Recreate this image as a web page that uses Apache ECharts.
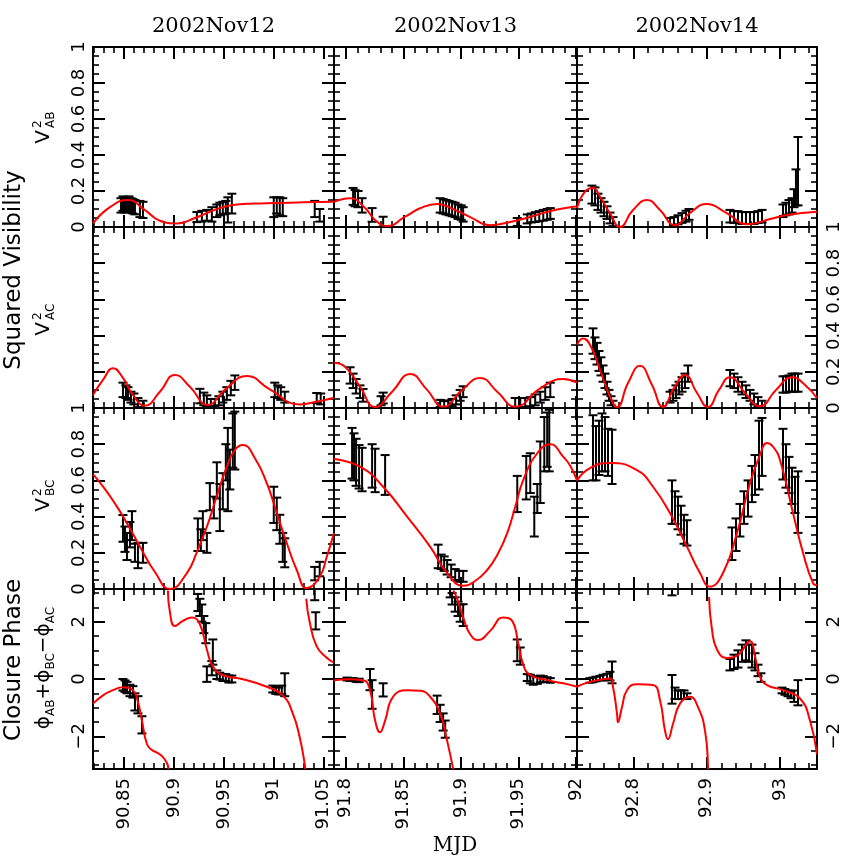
<!DOCTYPE html>
<html><head><meta charset="utf-8">
<script src="https://cdn.jsdelivr.net/npm/echarts@6/dist/echarts.min.js"></script>
<style>html,body{margin:0;padding:0;background:#fff}#c{width:862px;height:862px}</style>
</head><body><div id="c"></div><script>
// ---------------- data ----------------
const colTitles = ['2002Nov12', '2002Nov13', '2002Nov14'];
const xRange = [[90.819, 91.0603], [91.7898, 92.0009], [92.7232, 93.0506]];
const xMajor = [[90.85, 90.9, 90.95, 91, 91.05], [91.8, 91.85, 91.9, 91.95, 92], [92.8, 92.9, 93]];
const xLabels = [[90.85, 90.9, 90.95, 91, 91.05], [91.8, 91.85, 91.9, 91.95, 92], [92.8, 92.9, 93]];
const xMinorStep = [0.01, 0.01, 0.02];
const yMajorVis = [0, 0.2, 0.4, 0.6, 0.8, 1];
const yMajorCP = [-2, 0, 2];

// squared visibility AB: [MJD, V2, err]
const vab12 = [[90.847,0.12,0.04],[90.849,0.13,0.04],[90.851,0.12,0.04],[90.853,0.125,0.04],[90.855,0.13,0.04],[90.857,0.12,0.04],[90.859,0.115,0.04],[90.861,0.11,0.04],[90.866,0.1,0.045],[90.869,0.095,0.045],
[90.923,0.055,0.028],[90.928,0.06,0.03],[90.933,0.065,0.03],[90.938,0.07,0.04],[90.943,0.09,0.035],[90.946,0.1,0.035],[90.949,0.105,0.035],[90.952,0.11,0.035],[90.954,0.095,0.07],[90.958,0.13,0.055],
[91.0,0.11,0.055],[91.003,0.12,0.045],[91.006,0.115,0.05],[91.009,0.11,0.05],[91.041,0.1,0.045],[91.046,0.065,0.035]];
const vab13 = [[91.8064,0.17,0.047],[91.8081,0.16,0.045],[91.8107,0.155,0.045],[91.8142,0.12,0.04],[91.8229,0.067,0.038],[91.8325,0.03,0.027],
[91.882,0.12,0.04],[91.8846,0.115,0.04],[91.8872,0.11,0.04],[91.8898,0.105,0.04],[91.8924,0.1,0.04],[91.895,0.095,0.04],[91.8976,0.085,0.04],[91.9003,0.08,0.04],[91.902,0.07,0.04],
[91.949,0.028,0.022],[91.9577,0.045,0.025],[91.9612,0.05,0.025],[91.9646,0.055,0.027],[91.9681,0.06,0.028],[91.9716,0.065,0.03],[91.975,0.07,0.03],[91.9777,0.075,0.03]];
const vab14 = [[92.7436,0.18,0.05],[92.7477,0.17,0.05],[92.7518,0.14,0.045],[92.7559,0.12,0.04],[92.76,0.1,0.04],[92.7641,0.08,0.035],[92.7682,0.05,0.03],[92.7723,0.03,0.025],
[92.8501,0.025,0.025],[92.8555,0.03,0.025],[92.861,0.04,0.025],[92.8664,0.05,0.027],[92.8719,0.06,0.03],[92.876,0.07,0.03],
[92.9319,0.06,0.035],[92.9374,0.055,0.033],[92.9428,0.055,0.033],[92.9483,0.05,0.033],[92.9537,0.05,0.033],[92.9592,0.05,0.033],[92.9646,0.05,0.033],[92.9701,0.055,0.033],[92.9756,0.06,0.035],
[93.0042,0.09,0.035],[93.0083,0.1,0.035],[93.0124,0.11,0.04],[93.0165,0.12,0.04],[93.0192,0.16,0.05],[93.0219,0.22,0.1],[93.0247,0.31,0.19]];
const mab12 = [[90.819,0.02],[90.836,0.11],[90.854,0.15],[90.871,0.094],[90.886,0.035],[90.903,0.02],[90.921,0.05],[90.938,0.089],[90.959,0.122],[90.98,0.13],[91.003,0.133],[91.03,0.137],[91.0603,0.14]];
const mab13 = [[91.7898,0.14],[91.8038,0.16],[91.8168,0.105],[91.8255,0.039],[91.8359,0.005],[91.8516,0.057],[91.8646,0.104],[91.8794,0.128],[91.8951,0.094],[91.9081,0.055],[91.9255,0.01],[91.9429,0.028],[91.9603,0.056],[91.9777,0.089],[91.9951,0.11],[92.0009,0.114]];
const mab14 = [[92.7232,0.105],[92.7341,0.196],[92.745,0.217],[92.7546,0.168],[92.7682,0.076],[92.7818,0.0],[92.7996,0.094],[92.8187,0.15],[92.8364,0.094],[92.8569,0.01],[92.8773,0.078],[92.9005,0.128],[92.9251,0.083],[92.9565,0.015],[92.9865,0.044],[93.0097,0.067],[93.0506,0.085]];

// squared visibility AC
const vac12 = [[90.849,0.1,0.04],[90.852,0.09,0.035],[90.854,0.08,0.035],[90.857,0.06,0.03],[90.86,0.05,0.03],[90.864,0.03,0.025],[90.869,0.02,0.02],
[90.926,0.066,0.04],[90.93,0.05,0.035],[90.933,0.04,0.03],[90.937,0.03,0.02],[90.941,0.03,0.02],[90.945,0.04,0.025],[90.949,0.06,0.03],[90.953,0.08,0.035],[90.957,0.11,0.04],[90.961,0.14,0.04],
[91.001,0.1,0.04],[91.004,0.09,0.035],[91.007,0.08,0.035],[91.011,0.06,0.03],[91.043,0.055,0.028],[91.047,0.05,0.03]];
const vac13 = [[91.8038,0.18,0.045],[91.8064,0.15,0.04],[91.809,0.12,0.04],[91.8124,0.09,0.035],[91.815,0.07,0.035],[91.8307,0.04,0.025],[91.8325,0.055,0.03],
[91.882,0.025,0.02],[91.8855,0.02,0.018],[91.889,0.022,0.02],[91.8924,0.03,0.02],[91.8959,0.045,0.025],[91.8994,0.07,0.03],[91.902,0.09,0.03],
[91.9472,0.03,0.025],[91.9516,0.03,0.025],[91.9559,0.03,0.025],[91.9603,0.035,0.025],[91.9646,0.045,0.03],[91.969,0.06,0.03],[91.9733,0.08,0.035],[91.9777,0.1,0.04]];
const vac14 = [[92.745,0.37,0.07],[92.7477,0.33,0.06],[92.7505,0.3,0.06],[92.7532,0.26,0.055],[92.7559,0.23,0.05],[92.7587,0.19,0.045],[92.7614,0.15,0.04],[92.7641,0.11,0.035],[92.7669,0.07,0.03],[92.7696,0.04,0.025],[92.7723,0.02,0.02],
[92.8501,0.06,0.03],[92.8542,0.07,0.03],[92.8582,0.09,0.035],[92.8623,0.11,0.035],[92.8664,0.13,0.04],[92.8705,0.15,0.04],[92.8746,0.19,0.045],
[92.9319,0.165,0.045],[92.9374,0.15,0.04],[92.9428,0.13,0.04],[92.9483,0.11,0.035],[92.9537,0.09,0.035],[92.9592,0.07,0.03],[92.9646,0.05,0.03],[92.9701,0.035,0.025],[92.9756,0.02,0.02],
[93.0042,0.13,0.045],[93.0083,0.13,0.045],[93.0124,0.135,0.045],[93.0165,0.14,0.05],[93.0206,0.14,0.05],[93.0247,0.14,0.05]];
const mac12 = [[90.819,0.072],[90.829,0.155],[90.839,0.22],[90.849,0.166],[90.859,0.072],[90.871,0.013],[90.886,0.09],[90.901,0.183],[90.916,0.118],[90.934,0.017],[90.951,0.1],[90.973,0.177],[90.996,0.103],[91.026,0.02],[91.043,0.035],[91.0603,0.057]];
const mac13 = [[91.7898,0.25],[91.7994,0.228],[91.8124,0.118],[91.8255,0.005],[91.8403,0.09],[91.8559,0.188],[91.8707,0.1],[91.8846,0.007],[91.9011,0.1],[91.9168,0.166],[91.9316,0.09],[91.9472,0.007],[91.969,0.109],[91.989,0.16],[92.0009,0.14]];
const mac14 = [[92.7232,0.35],[92.7314,0.384],[92.7409,0.35],[92.7546,0.21],[92.7682,0.063],[92.7778,0.005],[92.7928,0.138],[92.8091,0.233],[92.8255,0.127],[92.8405,0.005],[92.8555,0.11],[92.8705,0.183],[92.8869,0.083],[92.9019,0.005],[92.9169,0.1],[92.9319,0.17],[92.9524,0.083],[92.9728,0.01],[92.9947,0.1],[93.0165,0.17],[93.0343,0.127],[93.0506,0.055]];

// squared visibility BC
const vbc12 = [[90.849,0.335,0.074],[90.851,0.275,0.07],[90.853,0.235,0.075],[90.856,0.3,0.07],[90.858,0.35,0.08],[90.861,0.2,0.05],[90.864,0.185,0.07],[90.869,0.2,0.055],
[90.924,0.3,0.09],[90.927,0.27,0.06],[90.929,0.35,0.08],[90.933,0.255,0.055],[90.936,0.51,0.075],[90.94,0.45,0.06],[90.943,0.6,0.1],[90.946,0.45,0.13],[90.949,0.54,0.1],[90.952,0.7,0.1],[90.954,0.66,0.23],[90.956,0.66,0.11],[90.959,0.82,0.15],[90.961,0.82,0.16],
[91.0,0.465,0.1],[91.003,0.415,0.09],[91.006,0.33,0.08],[91.009,0.23,0.08],[91.011,0.2,0.08],[91.041,0.085,0.037],[91.046,0.11,0.04]];
const vbc13 = [[91.8055,0.75,0.14],[91.8072,0.73,0.13],[91.809,0.7,0.13],[91.8116,0.675,0.12],[91.8142,0.66,0.12],[91.8229,0.68,0.12],[91.8255,0.655,0.12],[91.8342,0.63,0.11],
[91.8803,0.18,0.065],[91.8829,0.15,0.04],[91.8855,0.14,0.04],[91.8881,0.12,0.04],[91.8916,0.1,0.035],[91.8951,0.08,0.03],[91.8985,0.07,0.03],[91.902,0.07,0.03],
[91.949,0.525,0.1],[91.9568,0.615,0.12],[91.9603,0.64,0.11],[91.9638,0.4,0.11],[91.9664,0.5,0.08],[91.969,0.645,0.17],[91.9725,0.8,0.15],[91.975,0.825,0.15],[91.9768,0.82,0.17]];
const vbc14 = [[92.745,0.78,0.18],[92.7491,0.75,0.15],[92.7532,0.78,0.15],[92.7573,0.81,0.16],[92.7614,0.8,0.15],[92.7655,0.755,0.13],[92.771,0.73,0.15],
[92.8528,0.48,0.12],[92.8569,0.45,0.09],[92.861,0.42,0.09],[92.8651,0.38,0.08],[92.8692,0.33,0.08],[92.8732,0.31,0.07],
[92.9346,0.25,0.09],[92.9401,0.3,0.09],[92.9455,0.38,0.09],[92.951,0.45,0.09],[92.9565,0.5,0.1],[92.9619,0.58,0.1],[92.966,0.63,0.11],[92.9715,0.74,0.19],[92.9756,0.785,0.16],
[93.0042,0.745,0.14],[93.0083,0.68,0.12],[93.0124,0.63,0.1],[93.0165,0.57,0.1],[93.0206,0.52,0.1],[93.0247,0.48,0.17]];
const mbc12 = [[90.819,0.635],[90.831,0.552],[90.843,0.455],[90.854,0.354],[90.866,0.234],[90.881,0.094],[90.896,0.0],[90.913,0.088],[90.923,0.204],[90.933,0.344],[90.943,0.514],[90.953,0.676],[90.961,0.768],[90.969,0.796],[90.981,0.724],[90.993,0.585],[91.003,0.42],[91.013,0.254],[91.023,0.105],[91.033,0.005],[91.046,0.068],[91.053,0.177],[91.0603,0.309]];
const mbc13 = [[91.7898,0.718],[91.8124,0.676],[91.8325,0.565],[91.8533,0.4],[91.8733,0.234],[91.8881,0.088],[91.902,0.018],[91.9124,0.044],[91.9229,0.105],[91.9316,0.188],[91.9403,0.309],[91.9472,0.453],[91.9542,0.602],[91.9664,0.75],[91.9777,0.8],[91.989,0.73],[91.9951,0.68],[92.0009,0.6]];
const mbc14 = [[92.7232,0.6],[92.7409,0.668],[92.7682,0.696],[92.805,0.657],[92.8269,0.565],[92.85,0.42],[92.8732,0.234],[92.891,0.088],[92.9046,0.013],[92.9224,0.088],[92.9415,0.31],[92.9592,0.585],[92.9728,0.74],[92.9824,0.807],[92.9906,0.786],[93.0001,0.713],[93.0179,0.42],[93.0315,0.2],[93.0451,0.033],[93.0506,0.022]];

// closure phase (radians)
const cp12 = [[90.849,-0.2,0.2],[90.851,-0.25,0.2],[90.853,-0.3,0.2],[90.856,-0.4,0.2],[90.859,-0.45,0.2],[90.861,-0.8,0.3],[90.864,-0.9,0.3],[90.868,-1.6,0.3],
[90.924,2.67,0.3],[90.926,2.5,0.3],[90.928,2.3,0.3],[90.93,1.9,0.3],[90.932,1.6,0.35],[90.933,0.17,0.27],[90.938,0.38,0.25],[90.939,0.94,0.44],
[90.943,0.15,0.15],[90.946,0.1,0.12],[90.949,0.05,0.12],[90.952,0.05,0.12],[90.955,0.0,0.12],[90.958,0.0,0.12],
[90.999,-0.35,0.12],[91.002,-0.4,0.12],[91.005,-0.42,0.12],[91.008,-0.38,0.15],[91.011,-0.2,0.4],[91.041,2.95,0.2],[91.042,2.03,0.3]];
const cp13 = [[91.8011,0.0,0.05],[91.8038,-0.02,0.05],[91.8064,-0.02,0.05],[91.809,-0.05,0.05],[91.8116,-0.05,0.06],[91.8211,-0.02,0.37],[91.8229,-0.54,0.5],[91.8325,-0.38,0.23],
[91.8794,-0.9,0.32],[91.882,-1.2,0.3],[91.8846,-1.5,0.3],[91.8864,-1.75,0.3],
[91.8907,3.0,0.15],[91.8924,2.8,0.2],[91.895,2.6,0.25],[91.8976,2.45,0.25],[91.8994,2.3,0.3],[91.902,2.23,0.38],
[91.949,1.0,0.38],[91.9516,0.8,0.3],
[91.9577,0.05,0.12],[91.9603,0.0,0.15],[91.9629,-0.05,0.15],[91.9664,-0.05,0.12],[91.969,0.0,0.12],[91.9716,0.0,0.1],[91.9751,-0.02,0.08],[91.9777,-0.05,0.08]];
const cp14 = [[92.7409,-0.05,0.08],[92.745,-0.03,0.08],[92.7491,0.0,0.08],[92.7546,0.03,0.08],[92.7587,0.05,0.1],[92.7641,0.08,0.1],[92.7682,0.1,0.15],[92.771,0.23,0.38],
[92.8528,3.04,0.12],[92.8528,-0.36,0.5],[92.8569,-0.5,0.2],[92.861,-0.55,0.15],[92.8651,-0.55,0.15],[92.8692,-0.55,0.15],[92.8732,-0.6,0.1],
[92.9319,0.5,0.2],[92.9374,0.6,0.25],[92.9428,0.7,0.3],[92.9483,0.9,0.3],[92.9537,1.0,0.35],[92.9578,0.9,0.3],[92.9619,0.8,0.4],[92.966,0.6,0.3],[92.9701,0.3,0.2],[92.9742,0.05,0.15],
[93.0029,-0.4,0.1],[93.0069,-0.45,0.1],[93.011,-0.5,0.1],[93.0151,-0.55,0.12],[93.0192,-0.6,0.2],[93.0247,-0.48,0.44]];
const cpm12 = [
[[90.819,-0.86],[90.829,-0.57],[90.839,-0.39],[90.849,-0.29],[90.859,-0.39],[90.864,-0.8],[90.868,-1.45],[90.873,-2.27],[90.878,-2.48],[90.883,-2.57],[90.888,-2.69],[90.893,-2.93],[90.8945,-3.14]],
[[90.894,3.09],[90.896,2.34],[90.901,1.85],[90.909,2.03],[90.918,2.15],[90.926,1.91],[90.933,1.03],[90.939,0.44],[90.949,0.14],[90.969,-0.01],[90.993,-0.27],[91.009,-0.57],[91.019,-1.2],[91.026,-2.04],[91.031,-2.97],[91.0315,-3.14]],
[[91.0325,2.8],[91.036,1.98],[91.043,1.14],[91.053,0.74],[91.0603,0.57]]];
const cpm13 = [
[[91.7898,-0.04],[91.8038,-0.01],[91.8151,-0.04],[91.8211,-0.39],[91.8255,-1.45],[91.8298,-1.86],[91.8342,-1.45],[91.8411,-0.62],[91.8533,-0.39],[91.8646,-0.41],[91.8733,-0.62],[91.882,-1.21],[91.8881,-2.16],[91.8933,-3.14]],
[[91.8935,3.09],[91.8968,2.8],[91.902,2.15],[91.9081,1.56],[91.9151,1.36],[91.9255,1.68],[91.9368,2.15],[91.9446,2.03],[91.9498,1.26],[91.9542,0.5],[91.9603,0.14],[91.9751,-0.04],[91.989,-0.15],[92.0009,-0.27]]];
const cpm14 = [
[[92.7232,-0.27],[92.7409,-0.1],[92.7682,0.02],[92.7723,-0.27],[92.7778,-1.21],[92.7791,-1.51],[92.7846,-0.98],[92.7914,-0.39],[92.805,-0.18],[92.8269,-0.21],[92.8364,-0.74],[92.8432,-1.8],[92.8473,-2.1],[92.8541,-1.57],[92.8637,-0.86],[92.8773,-0.62],[92.8883,-0.98],[92.8978,-1.8],[92.9019,-3.04],[92.902,-3.14]],
[[92.9033,2.86],[92.9073,1.73],[92.9142,1.03],[92.9278,0.73],[92.9415,0.81],[92.9592,1.32],[92.966,0.79],[92.9728,0.08],[92.9824,-0.21],[93.0042,-0.39],[93.0274,-0.68],[93.041,-1.45],[93.0506,-2.63]]];

// ---------------- layout ----------------
const colLeft = [93, 334, 577], colWidth = [241, 243, 240];
const rowTop = [47, 227, 408, 589], rowHeight = [180, 181, 181, 180];
const FONT = '"DejaVu Sans", sans-serif';
const SERIF = '"DejaVu Serif", serif';

function minorTicks(range, step, majors) {
  const out = [];
  const s = Math.ceil(range[0] / step - 1e-9), e = Math.floor(range[1] / step + 1e-9);
  for (let k = s; k <= e; k++) {
    const v = Math.round(k * step * 1e6) / 1e6;
    if (!majors.some(m => Math.abs(m - v) < 1e-9)) out.push(v);
  }
  return out;
}
const yRange = [[0, 1], [0, 1], [0, 1], [-Math.PI, Math.PI]];
const yMajor = [yMajorVis, yMajorVis, yMajorVis, yMajorCP];
const yMinorStep = [0.05, 0.05, 0.05, 0.5];
const xMinor = xRange.map((r, c) => minorTicks(r, xMinorStep[c], xMajor[c]));
const yMinor = yRange.map((r, i) => minorTicks(r, yMinorStep[i], yMajor[i]));
const fmtY = (r) => (v) => (r === 3 && v < 0) ? '\u2212' + (-v) : String(v);

const errSets = [vab12, vab13, vab14, vac12, vac13, vac14, vbc12, vbc13, vbc14, cp12, cp13, cp14];
const modelSets = [[mab12], [mab13], [mab14], [mac12], [mac13], [mac14], [mbc12], [mbc13], [mbc14], cpm12, cpm13, cpm14];

const grids = [], xAxes = [], yAxes = [], series = [];

function renderErr(params, api) {
  const x = api.value(0), y = api.value(1), e = api.value(2);
  const c = api.coord([x, y]);
  const hi = api.coord([x, y + e])[1];
  const lo = api.coord([x, y - e])[1];
  const cs = params.coordSys;
  const y0 = cs.y, y1 = cs.y + cs.height;
  const t = Math.max(hi, y0), b = Math.min(lo, y1);
  const st = { stroke: '#000', lineWidth: 2 };
  const ch = [];
  if (b > t) ch.push({ type: 'line', shape: { x1: c[0], y1: t, x2: c[0], y2: b }, style: st });
  if (hi >= y0 && hi <= y1) ch.push({ type: 'line', shape: { x1: c[0] - 4.5, y1: hi, x2: c[0] + 4.5, y2: hi }, style: st });
  if (lo >= y0 && lo <= y1) ch.push({ type: 'line', shape: { x1: c[0] - 4.5, y1: lo, x2: c[0] + 4.5, y2: lo }, style: st });
  return { type: 'group', children: ch };
}

for (let r = 0; r < 4; r++) {
  for (let c = 0; c < 3; c++) {
    const g = r * 3 + c;
    grids.push({ left: colLeft[c], top: rowTop[r], width: colWidth[c], height: rowHeight[r], containLabel: false, outerBoundsMode: 'none' });
    ['bottom', 'top'].forEach(pos => {
      [true, false].forEach(major => {
        const showLab = major && pos === 'bottom' && r === 3;
        xAxes.push({
          type: 'value', gridIndex: g, position: pos, min: xRange[c][0], max: xRange[c][1], silent: true,
          splitLine: { show: false }, splitArea: { show: false }, minorTick: { show: false },
          axisLine: { show: major, onZero: false, lineStyle: { color: '#000', width: 2 } },
          axisTick: { show: true, inside: true, length: major ? 12 : 6, customValues: major ? xMajor[c] : xMinor[c], lineStyle: { color: '#000', width: major ? 2 : 1.6 } },
          axisLabel: showLab ? { show: true, customValues: xLabels[c], rotate: 90, margin: 9, color: '#000', fontSize: 18, fontFamily: FONT, formatter: v => String(v) } : { show: false },
          axisPointer: { show: false }
        });
      });
    });
    ['left', 'right'].forEach(pos => {
      [true, false].forEach(major => {
        const leftLab = pos === 'left' && c === 0 && (r === 0 || r === 2 || r === 3);
        const rightLab = pos === 'right' && c === 2 && (r === 1 || r === 3);
        const showLab = major && (leftLab || rightLab);
        yAxes.push({
          type: 'value', gridIndex: g, position: pos, min: yRange[r][0], max: yRange[r][1], silent: true,
          splitLine: { show: false }, splitArea: { show: false }, minorTick: { show: false },
          axisLine: { show: major, onZero: false, lineStyle: { color: '#000', width: 2 } },
          axisTick: { show: true, inside: true, length: major ? 12 : 6, customValues: major ? yMajor[r] : yMinor[r], lineStyle: { color: '#000', width: major ? 2 : 1.6 } },
          axisLabel: showLab ? { show: true, customValues: yMajor[r], rotate: 90, margin: pos === 'left' ? 5 : 8, color: '#000', fontSize: 18, fontFamily: FONT, formatter: fmtY(r) } : { show: false },
          axisPointer: { show: false }
        });
      });
    });
    series.push({
      type: 'custom', xAxisIndex: 4 * g, yAxisIndex: 4 * g, data: errSets[g], renderItem: renderErr,
      z: 2, silent: true, animation: false
    });
    modelSets[g].forEach(seg => {
      series.push({
        type: 'line', xAxisIndex: 4 * g, yAxisIndex: 4 * g, data: seg, symbol: 'none', showSymbol: false,
        smooth: 0.5, clip: true, lineStyle: { color: '#ff0000', width: 2 },
        z: 3, silent: true, animation: false
      });
    });
  }
}

function vLabel(cx, cy, sub) {
  return {
    type: 'group', x: cx, y: cy, rotation: Math.PI / 2, children: [
      { type: 'text', x: -7, y: 0, style: { text: 'V', fontSize: 20, fontFamily: FONT, fill: '#000', align: 'center', verticalAlign: 'middle' } },
      { type: 'text', x: 2, y: -6, style: { text: '2', fontSize: 12, fontFamily: FONT, fill: '#000', align: 'left', verticalAlign: 'middle' } },
      { type: 'text', x: 2, y: 7, style: { text: sub, fontSize: 12, fontFamily: FONT, fill: '#000', align: 'left', verticalAlign: 'middle' } }
    ]
  };
}

const graphic = [];
colTitles.forEach((t, c) => graphic.push({ type: 'text', x: colLeft[c] + colWidth[c] / 2, y: 27, style: { text: t, fontSize: 21, fontFamily: SERIF, fill: '#000', align: 'center', verticalAlign: 'middle' } }));
graphic.push({ type: 'text', x: 455, y: 846, style: { text: 'MJD', fontSize: 20, fontFamily: SERIF, fill: '#000', align: 'center', verticalAlign: 'middle' } });
graphic.push({ type: 'text', x: 14, y: 270, rotation: Math.PI / 2, style: { text: 'Squared Visibility', fontSize: 23, fontFamily: FONT, fill: '#000', align: 'center', verticalAlign: 'middle' } });
graphic.push({ type: 'text', x: 14, y: 660, rotation: Math.PI / 2, style: { text: 'Closure Phase', fontSize: 23, fontFamily: FONT, fill: '#000', align: 'center', verticalAlign: 'middle' } });
graphic.push(vLabel(44, 130, 'AB'));
graphic.push(vLabel(44, 322, 'AC'));
graphic.push(vLabel(44, 498, 'BC'));
graphic.push({
  type: 'text', x: 44, y: 668, rotation: Math.PI / 2,
  style: {
    text: '{p|\u03d5}{s|AB}{p|+\u03d5}{s|BC}{p|\u2212\u03d5}{s|AC}', align: 'center', verticalAlign: 'middle', fill: '#000',
    rich: {
      p: { fontSize: 20, fontFamily: FONT, lineHeight: 26, verticalAlign: 'middle', fill: '#000' },
      s: { fontSize: 12, fontFamily: FONT, lineHeight: 14, verticalAlign: 'bottom', fill: '#000' }
    }
  }
});

const chart = echarts.init(document.getElementById('c'), null, { renderer: 'canvas' });
chart.setOption({
  animation: false, backgroundColor: '#fff',
  textStyle: { fontFamily: FONT },
  grid: grids, xAxis: xAxes, yAxis: yAxes, series: series, graphic: graphic
});
</script></body></html>
